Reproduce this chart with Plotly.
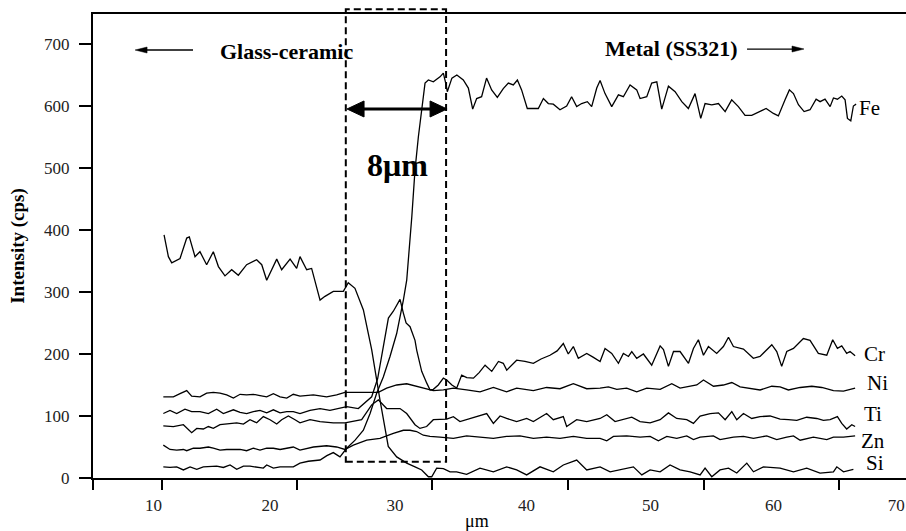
import plotly.graph_objects as go

# ---------------- data (x in µm, intensity in cps) ----------------
fe_points = [(10.79, 18), (11.33, 17), (11.87, 18), (12.41, 13), (12.95, 18), (13.49, 14), (14.02, 18),
             (14.56, 18), (15.1, 19), (15.64, 17), (16.18, 21), (16.72, 14), (17.26, 19), (17.79, 19),
             (18.33, 18), (18.87, 16), (19.14, 21), (19.68, 16), (20.22, 18), (20.76, 18), (21.29, 18),
             (21.83, 24), (22.5, 27), (23.45, 29), (24.0, 36), (24.52, 41), (25.06, 34), (25.6, 48),
             (26.28, 61), (26.95, 77), (27.49, 104), (28.03, 137), (28.56, 163), (29.1, 196), (29.64, 233),
             (30.18, 287), (30.45, 319), (30.86, 421), (31.12, 497), (31.39, 550), (31.66, 594), (31.93, 637),
             (32.2, 642), (32.6, 639), (33.14, 647), (33.41, 653), (33.63, 634), (33.73, 623), (34.1, 645),
             (34.5, 650), (35.02, 642), (35.43, 629), (35.78, 595), (36.1, 612), (36.5, 615), (36.9, 645),
             (37.31, 626), (37.77, 614), (38.25, 628), (38.66, 637), (39.06, 634), (39.39, 642), (39.73, 626),
             (40.19, 596), (40.68, 596), (41.08, 596), (41.49, 612), (41.89, 604), (42.29, 603), (42.83, 594),
             (43.37, 600), (43.77, 615), (44.18, 599), (44.58, 604), (45.04, 607), (45.39, 599), (45.8, 629),
             (46.07, 641), (46.47, 620), (47.01, 599), (47.55, 618), (47.95, 615), (48.49, 634), (49.03, 626),
             (49.3, 612), (49.84, 615), (50.24, 637), (50.65, 639), (51.05, 595), (51.59, 632), (52.13, 623),
             (52.67, 607), (53.2, 596), (53.74, 620), (54.2, 580), (54.55, 604), (55.09, 602), (55.63, 604),
             (56.17, 591), (56.7, 610), (57.24, 599), (57.78, 585), (58.32, 585), (58.99, 591), (59.48, 596),
             (60.07, 588), (60.47, 584), (61.01, 610), (61.36, 626), (61.69, 620), (62.09, 602), (62.55, 591),
             (63.03, 594), (63.52, 611), (63.84, 607), (64.24, 611), (64.65, 599), (64.92, 613), (65.24, 611),
             (65.59, 616), (65.86, 610), (66.05, 580), (66.32, 576), (66.53, 600), (66.75, 603)]

cr_points = [(10.79, 104), (11.33, 109), (11.87, 104), (12.54, 111), (13.08, 107), (13.75, 107), (14.43, 104),
             (15.1, 111), (15.64, 104), (16.45, 110), (16.99, 106), (17.52, 104), (18.06, 107), (18.6, 109),
             (19.14, 105), (19.68, 110), (20.22, 105), (20.76, 107), (21.29, 107), (21.83, 104), (22.64, 109),
             (23.45, 112), (24.25, 109), (25.06, 112), (25.6, 115), (26.54, 112), (27.22, 123), (27.62, 131),
             (28.1, 160), (28.56, 212), (28.97, 258), (29.37, 269), (29.91, 288), (30.18, 266), (30.4, 250),
             (30.72, 244), (31.12, 222), (31.26, 206), (31.52, 185), (31.66, 172), (32.07, 153), (32.34, 142),
             (32.6, 143), (33.0, 150), (33.41, 161), (33.68, 158), (34.1, 150), (34.49, 145), (34.89, 166),
             (35.3, 162), (35.84, 161), (36.3, 170), (36.78, 182), (37.32, 172), (37.86, 188), (38.25, 185),
             (38.53, 174), (39.33, 190), (40.0, 188), (40.68, 185), (41.3, 192), (42.02, 198), (42.6, 205),
             (43.1, 217), (43.5, 200), (43.91, 212), (44.31, 193), (44.99, 201), (45.5, 195), (46.07, 188),
             (46.47, 209), (47.01, 201), (47.55, 185), (47.95, 201), (48.36, 196), (48.63, 204), (49.03, 193),
             (49.57, 200), (50.24, 182), (50.92, 213), (51.19, 207), (51.59, 180), (52.0, 204), (52.53, 204),
             (53.21, 185), (53.61, 209), (54.01, 223), (54.42, 198), (54.82, 212), (55.49, 201), (56.03, 212),
             (56.44, 227), (56.84, 212), (57.65, 208), (58.45, 193), (58.99, 196), (59.94, 215), (60.34, 204),
             (60.74, 180), (61.15, 204), (61.69, 209), (62.49, 225), (63.03, 222), (63.7, 201), (64.38, 198),
             (64.86, 223), (65.24, 209), (65.59, 213), (65.99, 201), (66.26, 204), (66.67, 197)]

ni_points = [(10.79, 131), (11.6, 131), (12.14, 136), (12.68, 141), (13.08, 132), (13.75, 131), (14.29, 137),
             (14.83, 138), (15.37, 137), (15.91, 134), (16.45, 129), (16.99, 135), (17.52, 134), (18.06, 135),
             (18.6, 133), (19.14, 131), (19.68, 136), (20.22, 131), (20.76, 129), (21.29, 135), (21.83, 132),
             (22.91, 134), (23.98, 131), (24.79, 134), (25.46, 138), (26.41, 138), (27.48, 138), (28.16, 138),
             (28.83, 145), (29.64, 150), (30.45, 152), (31.52, 146), (32.6, 141), (33.41, 142), (34.22, 145),
             (35.29, 142), (36.37, 139), (37.45, 146), (38.52, 139), (39.33, 145), (40.68, 141), (41.75, 146),
             (42.83, 144), (43.91, 152), (44.99, 144), (46.07, 145), (46.74, 147), (47.42, 143), (48.22, 145),
             (49.03, 139), (49.84, 145), (50.92, 143), (51.86, 152), (52.53, 145), (53.21, 147), (53.88, 150),
             (54.42, 158), (55.23, 148), (56.03, 150), (56.71, 154), (57.38, 147), (58.19, 145), (58.99, 142),
             (59.94, 148), (60.61, 147), (61.28, 142), (62.23, 146), (63.17, 148), (63.98, 146), (64.92, 141),
             (65.73, 140), (66.67, 145)]

ti_points = [(10.79, 84), (11.6, 83), (12.41, 86), (13.08, 73), (13.49, 80), (14.02, 79), (14.43, 83),
             (14.83, 80), (15.37, 86), (16.18, 88), (16.72, 89), (17.26, 87), (17.79, 94), (18.33, 89),
             (18.87, 99), (19.41, 94), (19.95, 87), (20.35, 94), (20.89, 100), (21.43, 94), (21.83, 89),
             (22.64, 94), (23.45, 91), (24.52, 89), (25.46, 89), (26.81, 94), (27.62, 118), (28.16, 126),
             (28.83, 112), (29.91, 112), (30.45, 104), (31.12, 86), (31.52, 80), (32.06, 83), (32.6, 94),
             (33.68, 95), (34.22, 99), (34.75, 91), (35.56, 96), (36.37, 100), (36.91, 104), (37.45, 88),
             (37.99, 100), (38.52, 96), (39.33, 91), (40.14, 96), (40.68, 91), (41.75, 104), (42.29, 94),
             (43.1, 99), (43.37, 83), (44.18, 94), (44.99, 91), (46.07, 96), (46.61, 102), (47.28, 91),
             (47.95, 94), (48.63, 98), (49.3, 91), (50.11, 89), (50.92, 94), (51.59, 105), (52.26, 96),
             (53.07, 94), (53.61, 88), (54.15, 100), (54.96, 104), (55.63, 105), (56.17, 94), (56.71, 107),
             (57.11, 94), (57.65, 104), (58.32, 96), (58.99, 99), (59.8, 100), (60.61, 95), (61.28, 94),
             (61.96, 93), (62.76, 98), (63.57, 96), (64.11, 93), (64.65, 94), (65.24, 99), (65.59, 88),
             (65.99, 79), (66.4, 86), (66.67, 83)]

zn_points = [(10.79, 53), (11.33, 46), (11.87, 45), (12.41, 46), (12.68, 44), (13.22, 48), (13.75, 48),
             (14.43, 50), (14.83, 48), (15.37, 45), (15.91, 46), (16.45, 46), (16.99, 46), (17.52, 44),
             (18.06, 48), (18.6, 45), (19.14, 48), (19.68, 48), (20.22, 46), (20.76, 48), (21.29, 50),
             (21.83, 45), (22.91, 50), (23.98, 52), (24.79, 50), (25.46, 46), (26.14, 53), (27.22, 61),
             (28.29, 64), (29.37, 72), (30.18, 77), (30.72, 77), (31.25, 75), (31.79, 69), (32.33, 67),
             (33.14, 66), (34.22, 64), (35.29, 68), (36.37, 66), (37.45, 64), (38.52, 67), (39.6, 68),
             (40.68, 64), (41.75, 66), (42.83, 64), (43.91, 67), (44.99, 64), (46.07, 64), (46.61, 60),
             (47.15, 67), (48.22, 68), (49.3, 66), (50.11, 67), (50.78, 60), (51.46, 67), (52.26, 64),
             (53.07, 68), (53.61, 62), (54.15, 66), (55.22, 68), (55.76, 62), (56.84, 66), (57.65, 67),
             (58.46, 64), (59.53, 68), (60.34, 62), (61.15, 66), (61.69, 68), (62.23, 61), (63.3, 66),
             (64.38, 62), (64.92, 66), (65.73, 66), (66.67, 68)]

si_points = [(10.85, 392), (11.2, 357), (11.47, 347), (12.14, 354), (12.68, 387), (12.89, 389), (13.35, 357),
             (13.75, 365), (14.29, 344), (14.83, 365), (15.24, 341), (15.77, 326), (16.31, 336), (16.85, 327),
             (17.52, 344), (18.33, 352), (18.74, 344), (19.14, 319), (19.95, 353), (20.35, 336), (21.03, 353),
             (21.56, 338), (21.83, 357), (22.37, 336), (22.77, 338), (23.45, 287), (23.85, 293), (24.52, 301),
             (25.33, 301), (25.73, 315), (26.27, 306), (26.95, 271), (27.35, 233), (27.62, 207), (28.29, 126),
             (28.96, 51), (29.64, 34), (30.45, 24), (31.12, 18), (31.66, 13), (32.2, 2), (32.47, 2),
             (32.87, 16), (33.41, 15), (33.95, 10), (34.48, 10), (35.29, 6), (36.37, 16), (37.45, 10),
             (38.52, 18), (39.33, 13), (40.14, 5), (41.22, 18), (42.29, 10), (43.1, 21), (44.18, 29),
             (44.99, 13), (46.07, 18), (46.88, 10), (47.95, 14), (48.76, 18), (49.44, 5), (50.11, 13),
             (50.92, 10), (51.72, 21), (52.53, 13), (53.34, 10), (54.15, 5), (54.55, 16), (55.09, 2),
             (55.76, 13), (56.44, 16), (57.11, 8), (57.92, 24), (58.46, 10), (59.26, 18), (60.61, 16),
             (61.69, 10), (62.76, 16), (63.84, 8), (64.92, 10), (65.19, 18), (65.73, 10), (66.53, 14)]

series = [("Fe", fe_points), ("Cr", cr_points), ("Ni", ni_points),
          ("Ti", ti_points), ("Zn", zn_points), ("Si", si_points)]

# label positions of the element names (x, y in data units)
element_labels = {"Fe": (66.83, 597), "Cr": (67.23, 200), "Ni": (67.47, 153),
                  "Ti": (67.23, 103), "Zn": (66.99, 60), "Si": (67.39, 24)}

x_range = [5.11, 70.78]
y_range = [0, 748.4]
y_ticks = [0, 100, 200, 300, 400, 500, 600, 700]
x_tick_marks = [5.11, 10.69, 21.6, 32.5, 43.48, 54.46, 65.37]
x_label_pos = [10, 19.41, 29.51, 40.13, 50.15, 60.08, 70.0]
x_label_text = ["10", "20", "30", "40", "50", "60", "70"]

interface_box = (25.53, 33.63, 26.3, 756.0)   # x0, x1, y0, y1
width_arrow = (25.63, 33.71, 595.2)           # 8 µm marker
left_arrow = (8.51, 13.19, 690.3)
right_arrow = (57.94, 62.54, 691.9)

SERIF = "Liberation Serif, Times New Roman, serif"

fig = go.Figure()
for name, pts in series:
    fig.add_trace(go.Scatter(x=[p[0] for p in pts], y=[p[1] for p in pts], mode="lines",
                             line=dict(color="black", width=1.3), name=name,
                             showlegend=False, hoverinfo="skip"))


def ypaper(v):
    return (v - y_range[0]) / (y_range[1] - y_range[0])


shapes = []
# dashed interface box
shapes.append(dict(type="rect", xref="x", yref="paper",
                   x0=interface_box[0], x1=interface_box[1],
                   y0=ypaper(interface_box[2]), y1=ypaper(interface_box[3]),
                   line=dict(color="black", width=2, dash="7px,4px")))
# double arrow
shapes.append(dict(type="line", xref="x", yref="y", x0=width_arrow[0] + 0.5, x1=width_arrow[1] - 0.5,
                   y0=width_arrow[2], y1=width_arrow[2], line=dict(color="black", width=3)))
shapes.append(dict(type="path", xref="x", yref="y", xsizemode="pixel", ysizemode="pixel",
                   xanchor=width_arrow[0], yanchor=width_arrow[2],
                   path="M0,0 L17,8 L17,-8 Z", fillcolor="black", line=dict(color="black", width=1)))
shapes.append(dict(type="path", xref="x", yref="y", xsizemode="pixel", ysizemode="pixel",
                   xanchor=width_arrow[1], yanchor=width_arrow[2],
                   path="M0,0 L-17,8 L-17,-8 Z", fillcolor="black", line=dict(color="black", width=1)))
# region arrows
shapes.append(dict(type="line", xref="x", yref="y", x0=left_arrow[0] + 0.3, x1=left_arrow[1],
                   y0=left_arrow[2], y1=left_arrow[2], line=dict(color="black", width=1.3)))
shapes.append(dict(type="path", xref="x", yref="y", xsizemode="pixel", ysizemode="pixel",
                   xanchor=left_arrow[0], yanchor=left_arrow[2],
                   path="M0,0 L12,3 L12,-3 Z", fillcolor="black", line=dict(color="black", width=0.5)))
shapes.append(dict(type="line", xref="x", yref="y", x0=right_arrow[0], x1=right_arrow[1] - 0.3,
                   y0=right_arrow[2], y1=right_arrow[2], line=dict(color="black", width=1.3)))
shapes.append(dict(type="path", xref="x", yref="y", xsizemode="pixel", ysizemode="pixel",
                   xanchor=right_arrow[1], yanchor=right_arrow[2],
                   path="M0,0 L-12,3 L-12,-3 Z", fillcolor="black", line=dict(color="black", width=0.5)))

annotations = []
for name, (lx, ly) in element_labels.items():
    annotations.append(dict(x=lx, y=ly, xref="x", yref="y", text=name, showarrow=False,
                            xanchor="left", yanchor="middle",
                            font=dict(family=SERIF, size=21, color="black")))
annotations.append(dict(x=20.74, y=688.7, xref="x", yref="y", text="<b>Glass-ceramic</b>",
                        showarrow=False, xanchor="center", yanchor="middle",
                        font=dict(family=SERIF, size=22, color="black")))
annotations.append(dict(x=51.8, y=692, xref="x", yref="y", text="<b>Metal (SS321)</b>",
                        showarrow=False, xanchor="center", yanchor="middle",
                        font=dict(family=SERIF, size=22, color="black")))
annotations.append(dict(x=29.67, y=505, xref="x", yref="y", text="<b>8μm</b>",
                        showarrow=False, xanchor="center", yanchor="middle",
                        font=dict(family=SERIF, size=32, color="black")))
annotations.append(dict(x=36.13, y=-0.0927, xref="x", yref="paper", text="μm",
                        showarrow=False, xanchor="center", yanchor="middle",
                        font=dict(family=SERIF, size=18, color="black")))

fig.update_layout(
    width=906, height=531,
    margin=dict(l=93, r=0, t=14, b=53),
    paper_bgcolor="white", plot_bgcolor="white",
    shapes=shapes, annotations=annotations,
    xaxis=dict(range=x_range, showline=True, linecolor="black", linewidth=2, mirror=True,
               showgrid=False, zeroline=False,
               tickvals=x_label_pos, ticktext=x_label_text, ticks="outside", ticklen=11,
               tickcolor="rgba(0,0,0,0)", tickfont=dict(family=SERIF, size=17, color="#222"),
               minor=dict(tickvals=x_tick_marks, ticks="outside", ticklen=10, tickwidth=2,
                          tickcolor="black", showgrid=False)),
    yaxis=dict(range=y_range, showline=True, linecolor="black", linewidth=2,
               showgrid=False, zeroline=False,
               tickvals=y_ticks, ticks="outside", ticklen=12, tickwidth=2, tickcolor="black",
               ticklabelstandoff=6,
               tickfont=dict(family=SERIF, size=17, color="#222"),
               title=dict(text="<b>Intensity (cps)</b>", standoff=14,
                          font=dict(family=SERIF, size=19, color="black"))),
)

fig.write_html("out.html")
